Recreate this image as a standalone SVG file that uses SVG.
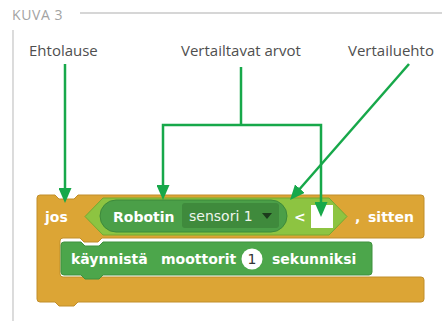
<svg xmlns="http://www.w3.org/2000/svg" width="442" height="321" viewBox="0 0 442 321">
<style>
.lbl{font-family:"Open Sans","Liberation Sans",sans-serif;font-size:15px;fill:#4f4f4f}
.hdr{font-family:"Open Sans","Liberation Sans",sans-serif;font-size:14px;fill:#a3a3a3;letter-spacing:0.6px}
.bt{font-family:"DejaVu Sans","Liberation Sans",sans-serif;font-size:14px;font-weight:bold;fill:#ffffff}
.rt{font-family:"DejaVu Sans","Liberation Sans",sans-serif;font-size:14px;fill:#eef5ec}
.con{fill:none;stroke:#17a84a;stroke-width:2.5}
.rule{stroke:#c9c9c9;stroke-width:1.3;fill:none}
</style>
<defs>
<marker id="ah" viewBox="0 0 15 13" refX="2" refY="6.5" markerWidth="15" markerHeight="13" markerUnits="userSpaceOnUse" orient="auto-start-reverse">
<path d="M0,0 L15,6.5 L0,13 Z" fill="#17a84a"/>
</marker>
</defs>
<rect width="442" height="321" fill="#ffffff"/>
<g id="header">
<text class="hdr" x="12" y="20">KUVA 3</text>
<path class="rule" d="M80,13 H442 M13,30 V321"/>
</g>
<g id="label-ehtolause"><text class="lbl" x="29" y="56">Ehtolause</text></g>
<g id="label-vertailtavat"><text class="lbl" x="181" y="56">Vertailtavat arvot</text></g>
<g id="label-vertailuehto"><text class="lbl" x="348" y="56">Vertailuehto</text></g>
<g id="block-jos">
<path d="M37,198 Q37,195 40,195 L55,195 L59,199 L74,199 L78,195 L421,195 Q424,195 424,198 L424,235 Q424,238 421,238 L102,238 L98,242 L84,242 L80,238 L63,238 Q60,238 60,241 L60,274 Q60,277 63,277 L421,277 Q424,277 424,280 L424,299 Q424,302 421,302 L78,302 L74,306 L59,306 L55,302 L40,302 Q37,302 37,299 Z" fill="#dca535" stroke="#c18e2b" stroke-width="1"/>
<text class="bt" x="45" y="222">jos</text>
<text class="bt" x="355" y="222">,<tspan x="368">sitten</tspan></text>
</g>
<g id="block-vertailu">
<path d="M85,216.5 L103,198 L329,198 L347,216.5 L329,235 L103,235 Z" fill="#8dc441" stroke="#74a933" stroke-width="1"/>
<text class="bt" x="294" y="222">&lt;</text>
<rect x="311" y="205" width="22" height="23" fill="#ffffff"/>
</g>
<g id="block-robotin">
<rect x="100" y="200" width="187" height="32" rx="16" fill="#4b9f48" stroke="#3d8a3b" stroke-width="1"/>
<text class="bt" x="113" y="222">Robotin</text>
<rect x="182" y="203" width="97" height="25" rx="3" fill="#3f8a3c"/>
<text class="rt" x="189" y="221">sensori 1</text>
<path d="M262,213 L272,213 L267,219 Z" fill="#1c3a1c"/>
</g>
<g id="block-kaynnista">
<path d="M61,245 Q61,242 64,242 L81,242 L85,246 L99,246 L103,242 L369,242 Q372,242 372,245 L372,272 Q372,275 369,275 L103,275 L99,279 L85,279 L81,275 L64,275 Q61,275 61,272 Z" fill="#4ca64b" stroke="#3f913e" stroke-width="1"/>
<text class="bt" x="71" y="264">käynnistä<tspan x="161">moottorit</tspan></text>
<circle cx="252" cy="259" r="10.5" fill="#ffffff"/>
<text x="252" y="264" text-anchor="middle" font-family="DejaVu Sans, sans-serif" font-size="14" fill="#333333">1</text>
<text class="bt" x="272" y="264">sekunniksi</text>
</g>
<g id="connectors">
<path class="con" d="M65,64 V190" marker-end="url(#ah)"/>
<path class="con" d="M241,67 V125"/>
<path class="con" d="M163,187 V125 H321 V204" marker-start="url(#ah)" marker-end="url(#ah)"/>
<path class="con" d="M409,64 L298.6,190.2" marker-end="url(#ah)"/>
</g>
</svg>
